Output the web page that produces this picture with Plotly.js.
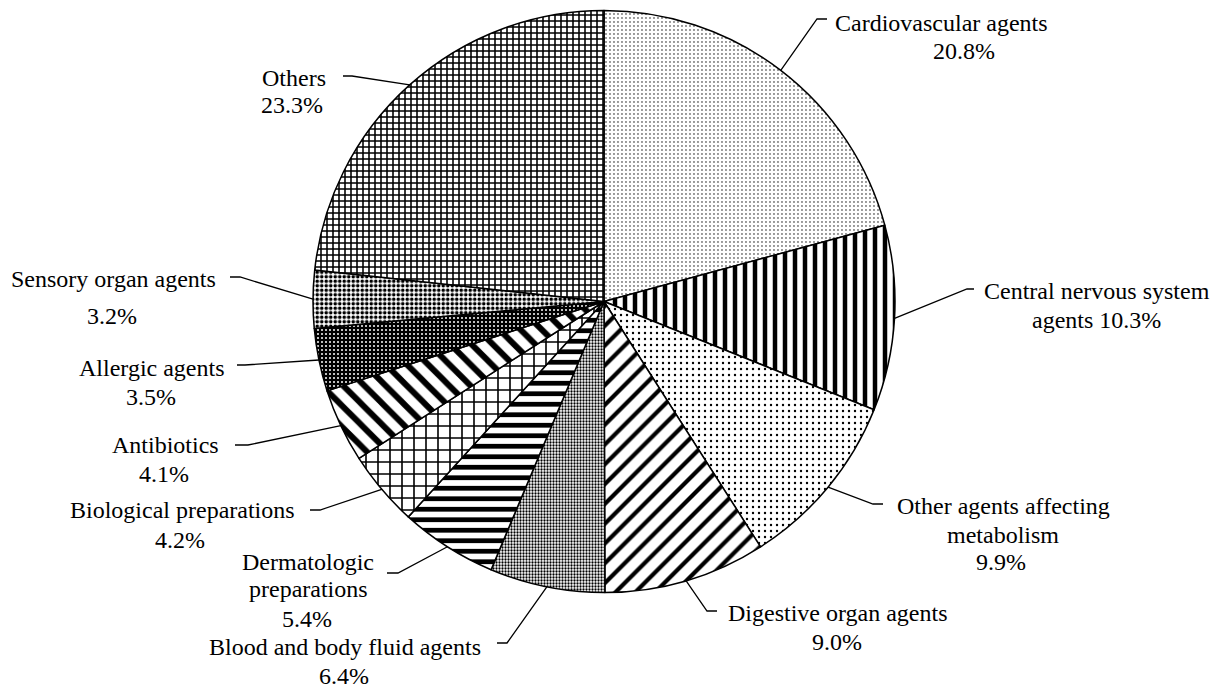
<!DOCTYPE html>
<html><head><meta charset="utf-8">
<script src="https://cdn.plot.ly/plotly-3.0.1.min.js"></script>
<style>html,body{margin:0;padding:0;background:#fff}#chart{width:1221px;height:689px}</style>
</head><body><div id="chart"></div>
<script>
// ---- data ----
const categories = ["Cardiovascular agents","Central nervous system agents","Other agents affecting metabolism","Digestive organ agents","Blood and body fluid agents","Dermatologic preparations","Biological preparations","Antibiotics","Allergic agents","Sensory organ agents","Others"];
const shares = [20.8, 10.3, 9.9, 9.0, 6.4, 5.4, 4.2, 4.1, 3.5, 3.2, 23.3];
const labelLines = [
  ["Cardiovascular agents","20.8%"],
  ["Central nervous system","agents 10.3%"],
  ["Other agents affecting","metabolism","9.9%"],
  ["Digestive organ agents","9.0%"],
  ["Blood and body fluid agents","6.4%"],
  ["Dermatologic","preparations","5.4%"],
  ["Biological preparations","4.2%"],
  ["Antibiotics","4.1%"],
  ["Allergic agents","3.5%"],
  ["Sensory organ agents","3.2%"],
  ["Others","23.3%"]
];

// ---- layout (pixels) ----
const W = 1221, H = 689;
const PIE = {cx: 604, cy: 301.5, r: 291};
const textCenters = [
  [[941,23],[964,51.3]],
  [[1097,291.3],[1096,319.5]],
  [[1003,506],[1003,534.7],[1001,562]],
  [[838,613.3],[837,642]],
  [[345,647],[344,676]],
  [[308,562],[308,588.7],[307,619]],
  [[182,510.3],[180,539.7]],
  [[165,445],[164,473.7]],
  [[151.5,368.3],[151,397]],
  [[113,278.7],[112,315.8]],
  [[294,77.5],[292,105]]
];
const elbows = [
  [[817,19],[827,19]],
  [[967,289],[974,289]],
  [[873,504],[883,504]],
  [[707,611],[717,611]],
  [[507,643],[497,643]],
  [[398,573],[387,573]],
  [[320,510],[310,510]],
  [[248,445],[235,445]],
  [[245,365],[237,365]],
  [[240,277],[230,277]],
  [[352,76],[343,76]]
];

// ---- styles ----
const patShape = [".", "|", ".", "/", ".", "-", "+", "\\", ".", ".", "+"];
const patSize  = [4, 10, 6, 14, 3, 10.5, 12, 15, 4, 4.5, 6];
const patSolid = [0.1, 0.45, 0.12, 0.3, 0.45, 0.45, 0.25, 0.4, 0.2, 0.5, 0.45];
const patFg    = ["#000","#000","#000","#000","#000","#000","#000","#000","#fff","#000","#000"];
const patBg    = ["#fff","#fff","#fff","#fff","#fff","#fff","#fff","#fff","#000","#fff","#fff"];
const FONT = {family: "Liberation Serif", size: 24, color: "#000"};

const px = x => x / W;
const py = y => 1 - y / H;

const total = shares.reduce((a,b)=>a+b,0);
let cum = 0;
const shapes = [], annotations = [];
shares.forEach((v,i) => {
  const mid = 2*Math.PI*(cum + v/2)/total;
  cum += v;
  const ex = PIE.cx + PIE.r*Math.sin(mid);
  const ey = PIE.cy - PIE.r*Math.cos(mid);
  const [b, e] = elbows[i];
  shapes.push({type:"path", xref:"paper", yref:"paper",
    path:`M${px(ex)},${py(ey)} L${px(b[0])},${py(b[1])} L${px(e[0])},${py(e[1])}`,
    line:{color:"#000", width:1.3}});
  labelLines[i].forEach((t,j) => {
    const c = textCenters[i][j];
    annotations.push({text:t, x:px(c[0]), y:py(c[1]), xref:"paper", yref:"paper",
      xanchor:"center", yanchor:"middle", showarrow:false, font:FONT});
  });
});

const trace = {
  type:"pie", labels:categories, values:shares, sort:false, direction:"clockwise", rotation:0,
  textinfo:"none", hoverinfo:"skip", showlegend:false,
  domain:{x:[px(PIE.cx-PIE.r), px(PIE.cx+PIE.r)], y:[py(PIE.cy+PIE.r), py(PIE.cy-PIE.r)]},
  marker:{colors:categories.map(()=>"#fff"), line:{color:"#000", width:1.5},
    pattern:{shape:patShape, size:patSize, solidity:patSolid, fgcolor:patFg, bgcolor:patBg, fillmode:"replace"}}
};
const layout = {width:W, height:H, margin:{l:0,r:0,t:0,b:0}, paper_bgcolor:"#fff", plot_bgcolor:"#fff",
  showlegend:false, shapes:shapes, annotations:annotations};
Plotly.newPlot("chart", [trace], layout, {staticPlot:true});
</script></body></html>
